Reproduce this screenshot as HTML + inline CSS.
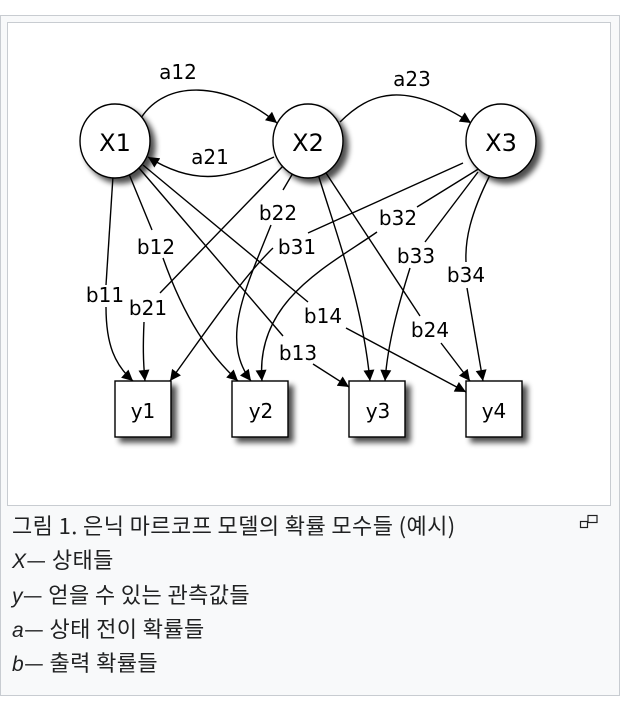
<!DOCTYPE html>
<html><head><meta charset="utf-8"><style>
html,body{margin:0;padding:0;background:#fff;width:632px;height:708px;overflow:hidden}
.frame{position:absolute;left:0;top:15px;width:618px;height:679px;border:1px solid #c8ccd1;background:#f8f9fa}
.img{position:absolute;left:7px;top:22px;width:602px;height:482px;border:1px solid #c8ccd1;background:#fff}
.cap{position:absolute;left:12px;top:508px;font-family:"Noto Sans CJK KR",sans-serif;font-size:22px;color:#202122;letter-spacing:0.4px;white-space:nowrap}
.cap div{height:34.3px;line-height:34px;overflow:visible}
.cap i{font-family:"Liberation Sans",sans-serif;font-size:21px}
svg{position:absolute;left:0;top:0}
</style></head><body>
<div class="frame"></div>
<div class="img"></div>
<div class="cap"><div>그림 1. 은닉 마르코프 모델의 확률 모수들 (예시)</div><div><i>X</i>— 상태들</div><div><i>y</i>— 얻을 수 있는 관측값들</div><div><i>a</i>— 상태 전이 확률들</div><div><i>b</i>— 출력 확률들</div></div>
<svg width="632" height="708" viewBox="0 0 632 708">
<defs>
<marker id="ar" viewBox="0 0 10 10" refX="10" refY="5" markerWidth="15" markerHeight="11" markerUnits="userSpaceOnUse" orient="auto"><path d="M0,0 L10,5 L0,10 z" fill="#000"/></marker>
<filter id="sh" x="-30%" y="-30%" width="170%" height="170%"><feGaussianBlur in="SourceAlpha" stdDeviation="3"/><feOffset dx="5" dy="5"/><feComponentTransfer><feFuncA type="linear" slope="0.7"/></feComponentTransfer><feMerge><feMergeNode/><feMergeNode in="SourceGraphic"/></feMerge></filter>
</defs>
<g fill="none" stroke="#000" stroke-width="1.4">
<path d="M141,118 C165,80 225,80 277,123" marker-end="url(#ar)"/>
<path d="M340,122 C370,92 405,80 471,123" marker-end="url(#ar)"/>
<path d="M274,157 C235,175 200,190 148,157" marker-end="url(#ar)"/>
<path d="M113,176 L106,285"/><path d="M106,307 C106,345 115,365 133,381" marker-end="url(#ar)"/>
<path d="M283,166 L160,293"/><path d="M144,322 C143,345 143,360 145,381" marker-end="url(#ar)"/>
<path d="M463,163 L308,233"/><path d="M273,248 C240,280 200,340 170,381" marker-end="url(#ar)"/>
<path d="M129,174 L152,230"/><path d="M163,258 C185,320 210,355 238,381" marker-end="url(#ar)"/>
<path d="M293,173 L283,190"/><path d="M271,225 C245,290 220,340 251,381" marker-end="url(#ar)"/>
<path d="M480,168 L417,207"/><path d="M377,232 C330,265 255,300 262,381" marker-end="url(#ar)"/>
<path d="M139,168 L283,336"/><path d="M313,364 L349,387" marker-end="url(#ar)"/>
<path d="M143,165 L308,302"/><path d="M346,328 L466,392" marker-end="url(#ar)"/>
<path d="M318,174 C335,230 362,300 370,381" marker-end="url(#ar)"/>
<path d="M326,173 L420,316"/><path d="M441,343 L470,381" marker-end="url(#ar)"/>
<path d="M478,172 L425,242"/><path d="M410,268 C400,300 388,340 385,381" marker-end="url(#ar)"/>
<path d="M490,175 C470,215 465,240 466,262"/><path d="M467,288 L483,381" marker-end="url(#ar)"/>
</g>
<g fill="#fff" stroke="#000" stroke-width="1.4" filter="url(#sh)">
<ellipse cx="115" cy="141" rx="35" ry="37"/>
<ellipse cx="308" cy="141" rx="35" ry="37"/>
<ellipse cx="501" cy="141" rx="35" ry="37"/>
<rect x="115" y="381" width="56" height="56"/>
<rect x="232" y="381" width="56" height="56"/>
<rect x="349" y="381" width="56" height="56"/>
<rect x="466" y="381" width="56" height="56"/>
</g>
<g font-family="DejaVu Sans, sans-serif" font-size="24" text-anchor="middle">
<text x="115" y="151">X1</text><text x="308" y="151">X2</text><text x="501" y="151">X3</text>
</g>
<g font-family="DejaVu Sans, sans-serif" font-size="20" text-anchor="middle">
<text x="143" y="418">y1</text><text x="261" y="418">y2</text><text x="378" y="418">y3</text><text x="494" y="418">y4</text>
<text x="178" y="79">a12</text><text x="412" y="86">a23</text><text x="210" y="164">a21</text>
<text x="105" y="302">b11</text><text x="148" y="315">b21</text><text x="297" y="254">b31</text>
<text x="156" y="254">b12</text><text x="278" y="220">b22</text><text x="398" y="225">b32</text>
<text x="298" y="360">b13</text><text x="323" y="323">b14</text><text x="430" y="337">b24</text>
<text x="416" y="263">b33</text><text x="466" y="282">b34</text>
</g>
<g fill="none" stroke="#202122" stroke-width="1.2">
<rect x="588" y="515.5" width="9" height="7"/><rect x="580.5" y="521.5" width="7" height="6" fill="#f8f9fa"/>
</g>
</svg>
</body></html>
